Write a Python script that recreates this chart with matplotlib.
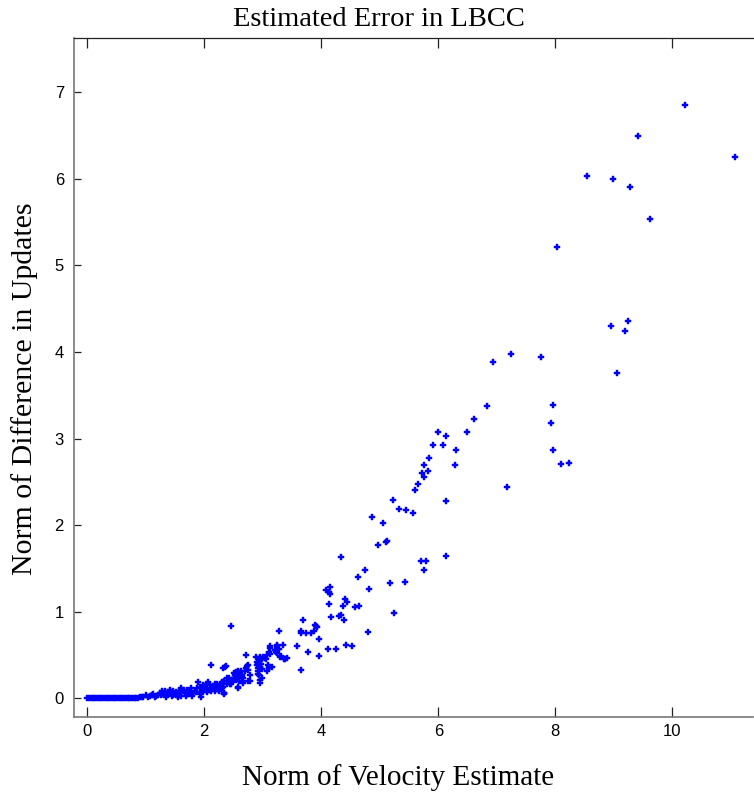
import matplotlib
matplotlib.use("Agg")
import matplotlib.pyplot as plt
from matplotlib.ticker import FixedLocator

# ---------------- data ----------------
# near-zero run at low speeds
x_zero = [0.00, 0.03, 0.06, 0.09, 0.12, 0.15, 0.18, 0.21, 0.24, 0.27, 0.30, 0.33,
          0.36, 0.39, 0.42, 0.45, 0.48, 0.51, 0.54, 0.57, 0.60, 0.63, 0.66, 0.69,
          0.72, 0.75, 0.78, 0.81, 0.84, 0.87, 0.90, 0.93, 0.96]
y_zero = [0.00, 0.00, 0.00, 0.00, 0.00, 0.00, 0.00, 0.00, 0.00, 0.00, 0.00, 0.00,
          0.00, 0.00, 0.00, 0.00, 0.00, 0.00, 0.00, 0.00, 0.00, 0.00, 0.00, 0.00,
          0.00, 0.00, 0.00, 0.00, 0.00, 0.00, 0.01, 0.01, 0.01]

# band between 1 and 2
x_low = [1.01, 1.07, 1.13, 1.16, 1.21, 1.24, 1.30, 1.33, 1.36, 1.41, 1.44, 1.47,
         1.50, 1.53, 1.56, 1.58, 1.61, 1.64, 1.67, 1.70, 1.76, 1.78, 1.81, 1.84,
         1.87, 1.90, 1.93, 1.96, 1.98, 1.04, 1.10, 1.18, 1.26, 1.34, 1.38, 1.46,
         1.52, 1.60, 1.66, 1.73, 1.79, 1.86, 1.92, 1.97, 1.28, 1.42, 1.55, 1.69,
         1.94]
y_low = [0.04, 0.03, 0.05, 0.02, 0.04, 0.06, 0.05, 0.08, 0.04, 0.06, 0.03, 0.08,
         0.05, 0.04, 0.08, 0.06, 0.12, 0.08, 0.06, 0.10, 0.08, 0.12, 0.06, 0.08,
         0.12, 0.19, 0.13, 0.10, 0.15, 0.02, 0.04, 0.03, 0.04, 0.02, 0.07, 0.04,
         0.07, 0.03, 0.10, 0.05, 0.03, 0.07, 0.05, 0.07, 0.09, 0.10, 0.02, 0.03,
         0.02]

# between 2 and 3.5
x_mid = [2.01, 2.04, 2.07, 2.10, 2.13, 2.15, 2.18, 2.21, 2.24, 2.27, 2.30, 2.32,
         2.34, 2.38, 2.41, 2.44, 2.47, 2.50, 2.52, 2.55, 2.58, 2.61, 2.64, 2.67,
         2.70, 2.72, 2.75, 2.78, 2.75, 2.90, 2.92, 2.95, 2.94, 2.96, 3.09, 3.11,
         2.11, 2.35, 2.32, 2.72, 2.88, 2.95, 3.29, 3.38,
         2.05, 2.08, 2.12, 2.16, 2.19, 2.22, 2.26, 2.28, 2.31, 2.33,
         2.50, 2.54, 2.58, 2.62, 2.60, 2.54, 2.64, 2.57, 2.60, 2.51, 2.64, 2.57,
         2.78, 2.66, 2.43, 2.34, 2.31, 2.45, 2.39, 2.32, 2.33,
         2.45, 2.37, 2.75, 2.73, 3.10, 3.15, 3.07, 2.92, 2.99, 2.95,
         2.92, 2.97, 2.90, 2.95, 2.99, 2.91, 2.96, 3.00, 2.98, 3.05, 2.94,
         3.13, 3.12, 3.22, 3.25, 3.32, 3.36, 3.41,
         3.03, 3.07, 3.11, 3.12, 3.21, 3.24, 3.25, 3.34, 3.28, 3.24, 3.28]
y_mid = [0.12, 0.17, 0.19, 0.15, 0.13, 0.12, 0.16, 0.17, 0.12, 0.13, 0.19, 0.17,
         0.06, 0.23, 0.20, 0.17, 0.21, 0.23, 0.27, 0.21, 0.12, 0.29, 0.25, 0.23,
         0.31, 0.35, 0.33, 0.27, 0.20, 0.42, 0.35, 0.36, 0.27, 0.21, 0.38, 0.35,
         0.39, 0.36, 0.35, 0.50, 0.48, 0.46, 0.48, 0.46,
         0.07, 0.10, 0.08, 0.14, 0.09, 0.11, 0.08, 0.15, 0.12, 0.05,
         0.29, 0.30, 0.32, 0.32, 0.29, 0.27, 0.27, 0.24, 0.20, 0.21, 0.20, 0.13,
         0.20, 0.18, 0.23, 0.20, 0.18, 0.16, 0.16, 0.13, 0.06,
         0.83, 0.37, 0.38, 0.37, 0.36, 0.36, 0.32, 0.28, 0.24, 0.18,
         0.40, 0.40, 0.38, 0.35, 0.34, 0.32, 0.48, 0.48, 0.46, 0.45, 0.46,
         0.51, 0.58, 0.53, 0.52, 0.49, 0.45, 0.47,
         0.47, 0.50, 0.53, 0.60, 0.56, 0.60, 0.62, 0.62, 0.78, 0.56, 0.57]

# between 3.5 and 5
x_upper = [3.68, 3.91, 3.89, 3.65, 3.65, 3.74, 3.82, 3.87, 3.92, 3.96, 3.58, 3.78,
           3.96, 3.65,
           4.34, 4.62, 4.08, 4.15, 4.14, 4.15, 4.41, 4.44, 4.37, 4.57, 4.64, 4.13,
           4.16, 4.30, 4.33, 4.38, 4.80, 4.43, 4.53, 4.11, 4.25,
           4.87, 4.97, 4.74, 4.82]
y_upper = [0.90, 0.83, 0.85, 0.76, 0.78, 0.76, 0.76, 0.78, 0.82, 0.68, 0.61, 0.54,
           0.49, 0.33,
           1.63, 1.40, 1.25, 1.29, 1.23, 1.20, 1.15, 1.11, 1.07, 1.05, 1.07, 1.09,
           0.94, 0.95, 0.96, 0.90, 0.77, 0.62, 0.60, 0.57, 0.57,
           2.09, 1.77, 1.48, 1.26]

# between 5 and 7
x_high = [6.61, 6.49, 6.13, 6.08, 6.30, 6.28, 5.99, 5.91, 5.84, 5.75, 5.73, 5.82,
          5.76, 5.65, 5.61, 5.23, 6.14, 5.33, 5.44, 5.57, 5.06, 5.13, 5.10,
          6.13, 5.71, 5.79, 5.76, 5.17, 5.43, 5.25]
y_high = [3.22, 3.07, 3.03, 2.93, 2.87, 2.69, 3.08, 2.93, 2.77, 2.69, 2.60, 2.62,
          2.56, 2.48, 2.40, 2.29, 2.28, 2.19, 2.18, 2.14, 2.02, 1.82, 1.80,
          1.64, 1.59, 1.59, 1.48, 1.33, 1.34, 0.98]

# fastest cases
x_top = [10.22, 9.41, 11.07, 8.54, 8.99, 9.27, 9.62, 8.03, 9.24, 8.96, 9.20, 7.25,
         6.93, 7.76, 9.05, 6.83, 7.96, 7.93, 7.96, 8.10, 8.24, 7.17]
y_top = [6.85, 6.49, 6.25, 6.03, 6.00, 5.91, 5.53, 5.21, 4.36, 4.30, 4.24, 3.98,
         3.88, 3.94, 3.76, 3.38, 3.39, 3.18, 2.87, 2.71, 2.72, 2.44]

x_ticks = [0, 2, 4, 6, 8, 10]
y_ticks = [0, 1, 2, 3, 4, 5, 6, 7]

title = "Estimated Error in LBCC"
xlabel = "Norm of Velocity Estimate"
ylabel = "Norm of Difference in Updates"

# ---------------- figure ----------------
W, H, DPI = 754, 794, 100
fig = plt.figure(figsize=(W / DPI, H / DPI), dpi=DPI, facecolor="white")
ax = fig.add_axes([73.7 / W, 1 - 716.7 / H, (753 - 73.7) / W, (716.7 - 38) / H])

xs = x_zero + x_low + x_mid + x_upper + x_high + x_top
ys = y_zero + y_low + y_mid + y_upper + y_high + y_top
ax.plot(xs, ys, linestyle="none", marker="P", markersize=4.2,
        markerfacecolor="#0000ff", markeredgecolor="#0000ff", markeredgewidth=0.3)

ax.set_xlim(-0.232, 11.38)
ax.set_ylim(-0.212, 7.625)

ax.xaxis.set_major_locator(FixedLocator(x_ticks))
ax.yaxis.set_major_locator(FixedLocator(y_ticks))
tick_font = ["Liberation Sans", "DejaVu Sans"]
ax.set_xticklabels([str(v) for v in x_ticks], fontfamily=tick_font, fontsize=12)
ax.set_yticklabels([str(v) for v in y_ticks], fontfamily=tick_font, fontsize=12)
ax.tick_params(axis="x", direction="in", length=7.2, width=0.9, top=True,
               bottom=True, pad=5, colors="#222222", labelcolor="black")
ax.tick_params(axis="y", direction="in", length=5, width=0.9, left=True,
               right=False, pad=7, colors="#222222", labelcolor="black")

ax.spines["right"].set_visible(False)
for s in ["left", "bottom"]:
    ax.spines[s].set_color("#777777")
    ax.spines[s].set_linewidth(1.2)
ax.spines["top"].set_color("#222222")
ax.spines["top"].set_linewidth(0.9)

serif = ["Liberation Serif", "DejaVu Serif"]
fig.text(379 / W, 1 - 20 / H, title, ha="center", va="center",
         fontfamily=serif, fontsize=20.5)
fig.text(398 / W, 1 - 778 / H, xlabel, ha="center", va="center",
         fontfamily=serif, fontsize=21)
fig.text(25 / W, 1 - 389 / H, ylabel, ha="center", va="center",
         rotation=90, fontfamily=serif, fontsize=21.5)

fig.savefig("out.png", dpi=DPI, facecolor="white")
